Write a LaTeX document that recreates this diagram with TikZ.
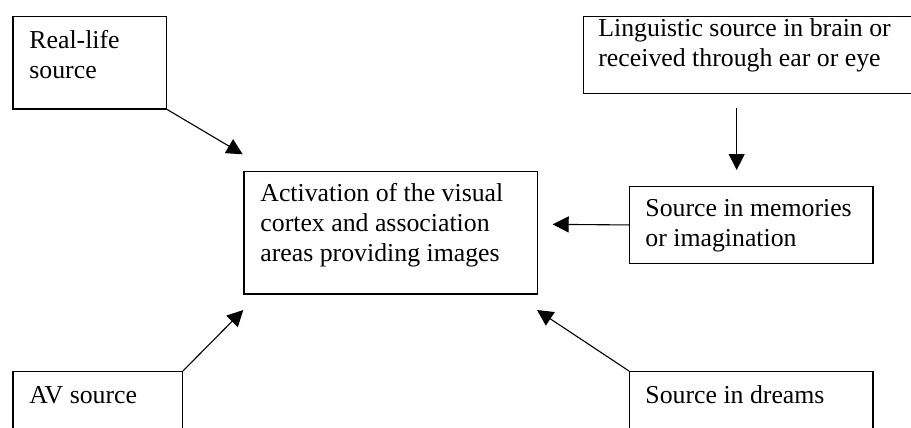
\documentclass[tikz,border=0pt]{standalone}
\usepackage{fontspec}
\setmainfont{Liberation Serif}
\usetikzlibrary{arrows.meta}
\begin{document}
\begin{tikzpicture}[x=0.5pt,y=-0.5pt,
  box/.style={draw, line width=0.6pt, inner sep=0pt, anchor=north west},
  lbl/.style={anchor=base west, inner sep=0pt, align=left, font=\fontsize{12.9}{15}\selectfont},
  arr/.style={line width=0.55pt, -{Triangle[length=8pt,width=8pt]}}]
\useasboundingbox (0,0) rectangle (911,428);
\fill[white] (0,0) rectangle (911,428);
\clip (0,0) rectangle (911,428);
% boxes
\node[box, minimum width=76.85pt, minimum height=46.3pt] (real) at (12.3,15.7) {};
\node[box, minimum width=178.65pt, minimum height=38.5pt] (ling) at (582.7,15.7) {};
\node[box, minimum width=146.7pt, minimum height=61.3pt] (center) at (243.3,170.7) {};
\node[box, minimum width=121.65pt, minimum height=38.35pt] (mem) at (629,186) {};
\node[box, minimum width=84.7pt, minimum height=44.5pt] (av) at (12.3,371) {};
\node[box, minimum width=121.65pt, minimum height=44.5pt] (dream) at (629,371) {};
% texts (base anchor = last line's baseline)
\node[lbl] (treal) at (29,78) {Real-life\\source};
\node[lbl] (tling) at (598,66.7) {Linguistic source in brain or\\received through ear or eye};
\node[lbl] (tcenter) at (260,261.7) {Activation of the visual\\cortex and association\\areas providing images};
\node[lbl] (tmem) at (645,246.7) {Source in memories\\or imagination};
\node[lbl] (tav) at (29,403.3) {AV source};
\node[lbl] (tdream) at (645,403.3) {Source in dreams};
% arrow ends
\coordinate (t1) at (242.7,154.3);
\coordinate (t2) at (243.3,310);
\coordinate (t3) at (537,310);
\coordinate (s4) at (736.7,108);
\coordinate (t4) at (736.7,170);
\coordinate (t5) at (552.7,224.35);
% connectors
\draw[arr] (real.south east) -- (t1);
\draw[arr] (av.north east) -- (t2);
\draw[arr] (dream.north west) -- (t3);
\draw[arr] (s4) -- (t4);
\draw[arr] (mem.west) -- (t5);
\end{tikzpicture}
\end{document}
